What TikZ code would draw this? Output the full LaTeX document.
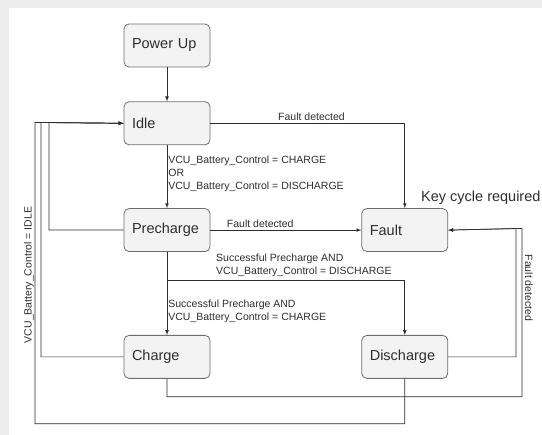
\documentclass[tikz,border=0pt]{standalone}
\usepackage{fontspec}
\setmainfont{Liberation Sans}
\usetikzlibrary{shapes,arrows,positioning}
\definecolor{boxgrey}{HTML}{F3F3F3}
\definecolor{edgegrey}{HTML}{6E6E6E}
\definecolor{inkgrey}{HTML}{2E2E2E}
\tikzstyle{state} = [rectangle, draw=edgegrey, fill=boxgrey, line width=0.8pt,
    rounded corners=5pt, text width=70pt, inner sep=8pt, align=left,
    minimum height=43pt, text=inkgrey, font=\fontsize{14.5}{17}\selectfont]
\tikzstyle{cond} = [text=inkgrey, inner sep=1pt, align=left,
    font=\fontsize{10.5}{13}\selectfont]
\tikzstyle{line} = [draw=inkgrey, line width=0.7pt]

\begin{document}
\begin{tikzpicture}[x=1pt, y=1pt, >=latex]
    % page with grey margin strips
    \useasboundingbox (0,0) rectangle (542,-435);
    \fill[gray!14] (0,0) rectangle (542,-435);
    \fill[white] (9,-8) rectangle (542,-435);

    \node[state] (powerUp) at (167,-45.5) {Power Up};
    \node[state,below=34pt of powerUp] (idle) {Idle};
    \node[state,below=63pt of idle] (precharge) {Precharge};
    \node[state,below=83pt of precharge] (charge) {Charge};
    \node[state,right=151pt of precharge] (fault) {Fault};
    \node[state,right=151pt of charge] (discharge) {Discharge};

    \node[anchor=west, inner sep=1pt, text=inkgrey, font=\fontsize{14.5}{17}\selectfont] (keyCycle) at (420,-198) {Key cycle required};

    % corner points of the return lines
    \coordinate (leftOuter) at (35,-122.5);
    \coordinate (leftMid) at (41,-122.5);
    \coordinate (leftInner) at (49,-122.5);
    \coordinate (rightInner) at (516,-228.5);
    \coordinate (rightOuter) at (522,-228.5);
    \coordinate[below=28pt of precharge.south] (prechargeSplit);
    \coordinate[below=18pt of charge.south] (chargeDrop);
    \coordinate[below=45pt of discharge.south] (dischargeDrop);

    \path[line,->] (powerUp) -- (idle);
    \path[line,->] (idle) -- (precharge)
        node[cond, right, pos=0.45] {VCU\_Battery\_Control = CHARGE\\OR\\VCU\_Battery\_Control = DISCHARGE};
    \path[line,->] (idle.east) -| (fault.north)
        node[cond, above=1pt, pos=0.26] {Fault detected};
    \path[line,->] (precharge) -- (fault)
        node[cond, above=1pt, pos=0.33] {Fault detected};
    \path[line,->] (precharge) -- (charge)
        node[cond, anchor=west, pos=0.72] {Successful Precharge AND\\VCU\_Battery\_Control = CHARGE};
    \path[line,->] (precharge.south) -- (prechargeSplit) -| (discharge.north);
    \node[cond, anchor=south west, above right=2pt and 48pt of prechargeSplit] (dischargeCond)
        {Successful Precharge AND\\VCU\_Battery\_Control = DISCHARGE};

    \path[line,->] (precharge.west) -| (leftInner) -- (idle.west);
    \path[line,->] (charge.west) -| (leftMid) -- (idle.west);
    \path[line,->] (discharge.south) -- (dischargeDrop) -| (leftOuter) -- (idle.west);
    \node[cond, rotate=90] (idleCond) at (29,-275) {VCU\_Battery\_Control = IDLE};

    \path[line,->] (discharge.east) -| (rightInner) -- (fault.east);
    \path[line,->] (charge.south) -- (chargeDrop) -| (rightOuter) -- (fault.east);
    \node[cond, rotate=-90] (faultCond) at (529,-288) {Fault detected};
\end{tikzpicture}
\end{document}
